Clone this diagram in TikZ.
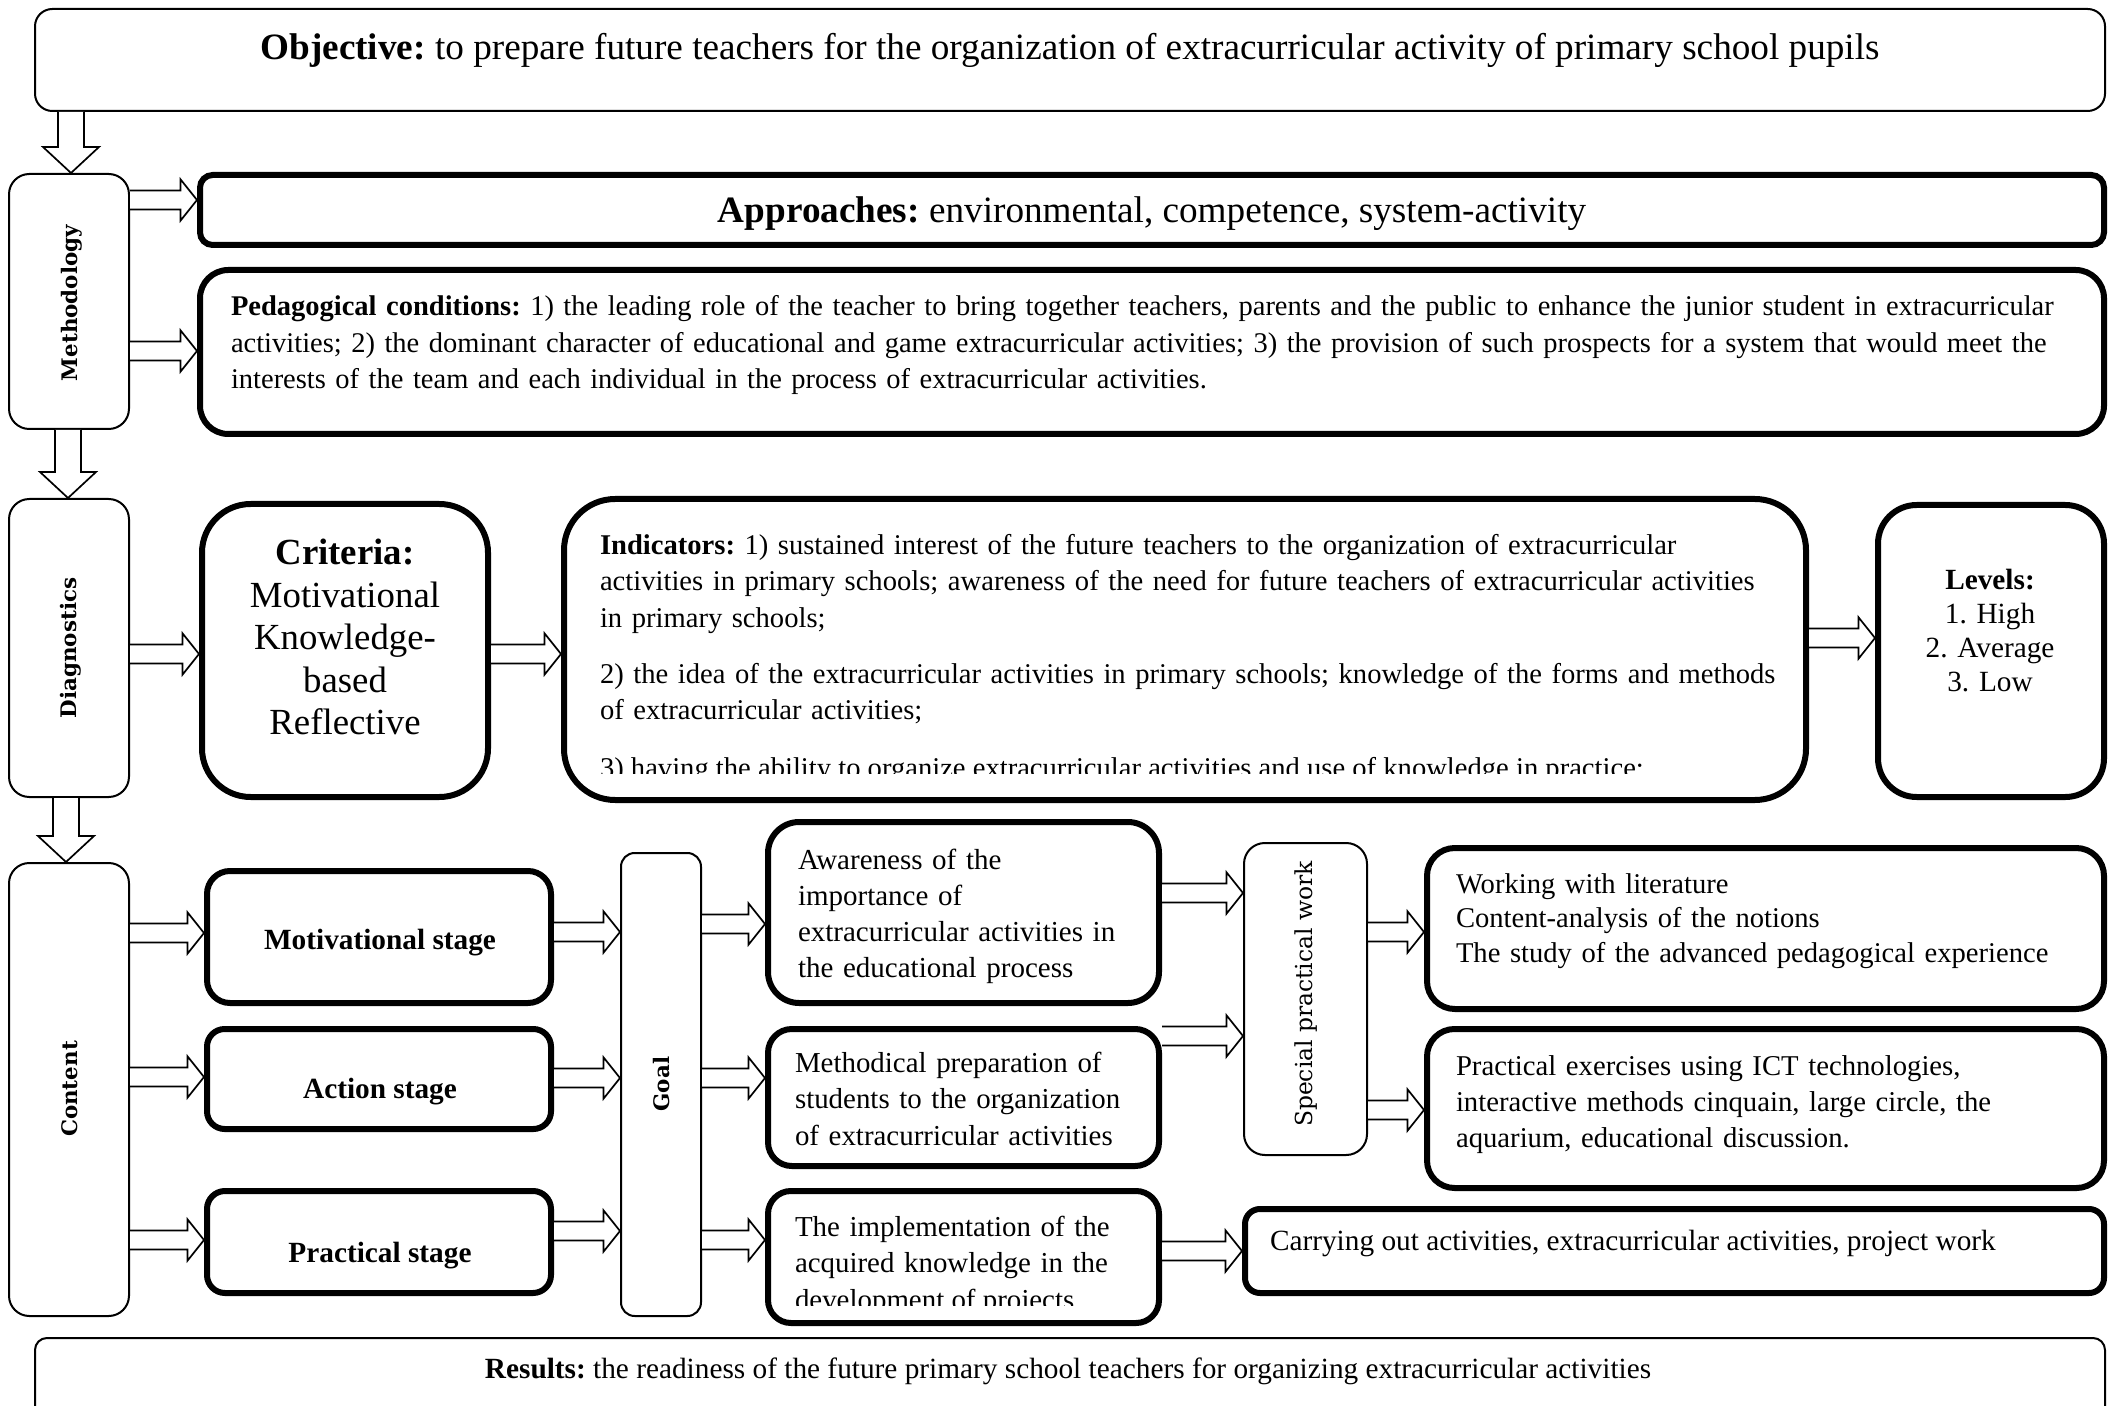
\documentclass[tikz,border=0pt]{standalone}
\usepackage{fontspec}
\setmainfont{Liberation Serif}
\newfontfamily\lblfont{DejaVu Serif}
\usetikzlibrary{calc}
\frenchspacing
\hyphenpenalty=10000
\newcommand\fsz[2]{\fontsize{#1}{#2}\selectfont}
% box: [extra], name, line width (pt), x1, y1, x2, y2 (outer edges, px)
\newcommand\bx[7][]{%
  \pgfmathsetmacro\bxw{(#6-#4)/2-#3}%
  \pgfmathsetmacro\bxh{(#7-#5)/2-#3}%
  \pgfmathsetmacro\bxr{min(#6-#4,#7-#5)*0.0833}%
  \node[draw, line width=#3pt, rounded corners=\bxr pt, minimum width=\bxw pt,
        minimum height=\bxh pt, inner sep=0pt, #1] (#2) at ({(#4+#6)/2},{(#5+#7)/2}) {};%
}
% horizontal block arrow: from node, to node, y (px)
\newcommand\harrow[3]{%
  \draw[arr] let \p1=(#1.east |- 0,#3), \p2=(#2.west |- 0,#3) in
   (\x1,\y1+4.75pt) -- (\x2-8.3pt,\y1+4.75pt) -- (\x2-8.3pt,\y1+10.4pt) -- (\x2,\y1)
   -- (\x2-8.3pt,\y1-10.4pt) -- (\x2-8.3pt,\y1-4.75pt) -- (\x1,\y1-4.75pt);}
% vertical block arrow: from node, to node, x (px)
\newcommand\varrow[3]{%
  \draw[arr] let \p1=(#1.south -| #3,0), \p2=(#2.north -| #3,0) in
   (\x1-6.5pt,\y1) -- (\x1-6.5pt,\y2+13pt) -- (\x1-14pt,\y2+13pt) -- (\x1,\y2)
   -- (\x1+14pt,\y2+13pt) -- (\x1+6.5pt,\y2+13pt) -- (\x1+6.5pt,\y1);}
\begin{document}
\begin{tikzpicture}[x=0.5pt,y=-0.5pt,
  arr/.style={line width=0.85pt, fill=white, line join=miter},
  body/.style={inner sep=0pt, outer sep=0pt, font=\fsz{14.65}{18}},
  lefttext/.style={body, text width=#1, align=left, anchor=base west},
  ctext/.style={body, text width=#1, align=center, anchor=base},
  vlabel/.style={rotate=90, inner sep=0pt, font=\lblfont\bfseries\fsz{10.7}{12}},
  stagelbl/.style={body, anchor=base, font=\bfseries\fsz{14.65}{18}}]
\clip (0,0) rectangle (2114,1406);
\fill[white] (0,0) rectangle (2114,1406);

% ---------- boxes ----------
\bx{obj}{1}{34}{8}{2106}{112}
\bx{meth}{1}{8}{173}{130}{430}
\bx{appr}{3}{197}{172}{2107}{248}
\bx{ped}{3}{197}{267}{2107}{437}
\bx{diag}{1}{8}{498}{130}{798}
\bx{crit}{3}{199}{501}{491}{800}
\bx{ind}{3}{561}{496}{1809}{803}
\bx{lev}{3}{1875}{502}{2107}{800}
\bx{cont}{1}{8}{862}{130}{1317}
\bx{mot}{3}{204}{868}{554}{1006}
\bx{act}{3}{204}{1026}{554}{1132}
\bx{prac}{3}{204}{1188}{554}{1296}
\bx{goal}{1}{620}{852}{702}{1317}
\bx{aware}{3}{765}{819}{1162}{1006}
\bx{methd}{3}{765}{1026}{1162}{1169}
\bx{impl}{3}{765}{1188}{1162}{1326}
\bx{spw}{1}{1243}{842}{1368}{1156}
\bx{work}{3}{1424}{845}{2107}{1012}
\bx{pex}{3}{1424}{1026}{2107}{1191}
\bx{carry}{3}{1242}{1206}{2107}{1296}
\bx[rounded corners=6pt]{res}{1}{34}{1337}{2106}{1480}

% ---------- arrows ----------
\varrow{obj}{meth}{71}
\varrow{meth}{diag}{68}
\varrow{diag}{cont}{66}
\harrow{meth}{appr}{200}
\harrow{meth}{ped}{351}
\harrow{diag}{crit}{654}
\harrow{crit}{ind}{654}
\harrow{ind}{lev}{638}
\harrow{cont}{mot}{933}
\harrow{cont}{act}{1077}
\harrow{cont}{prac}{1240}
\harrow{mot}{goal}{932}
\harrow{act}{goal}{1078}
\harrow{prac}{goal}{1231}
\harrow{goal}{aware}{924}
\harrow{goal}{methd}{1078}
\harrow{goal}{impl}{1240}
\harrow{aware}{spw}{893}
\harrow{methd}{spw}{1036}
\harrow{impl}{carry}{1251}
\harrow{spw}{work}{932}
\harrow{spw}{pex}{1110}

% ---------- texts ----------
\node[body, anchor=base, font=\fsz{18.6}{22}] (objT) at (1070,60)
  {\textbf{Objective:} to prepare future teachers for the organization of extracurricular activity of primary school pupils};
\node[body, anchor=base, font=\fsz{18.6}{22}] (apprT) at (1152,223)
  {\textbf{Approaches:} environmental, competence, system-activity};
\node[lefttext=940pt, font=\fsz{14.25}{18.25}] (pedT) at (231,316)
  {\textbf{Pedagogical conditions:} 1) the leading role of the teacher to bring together teachers, parents and the public to enhance the junior student in extracurricular\\
   activities; 2) the dominant character of educational and game extracurricular activities; 3) the provision of such prospects for a system that would meet the\\
   interests of the team and each individual in the process of extracurricular activities.};

\node[ctext=135pt, font=\fsz{18.4}{21.25}] (critT) at (345,565)
  {\textbf{Criteria:}\\Motivational\\Knowledge-\\based\\Reflective};
\node[lefttext=640pt, font=\fsz{14.3}{18.25}] (indT1) at (600,554)
  {\textbf{Indicators:} 1) sustained interest of the future teachers to the organization of extracurricular\\
   activities in primary schools; awareness of the need for future teachers of extracurricular activities\\
   in primary schools;};
\node[lefttext=640pt, font=\fsz{14.3}{18.25}] (indT2) at (600,683)
  {2) the idea of the extracurricular activities in primary schools; knowledge of the forms and methods\\
   of extracurricular activities;};
\begin{scope}
  \clip (580,740) rectangle (1790,773);
  \node[body, anchor=base west, font=\fsz{14.3}{18}] (indT3) at (600,777)
    {3) having the ability to organize extracurricular activities and use of knowledge in practice;};
\end{scope}
\node[ctext=110pt, font=\fsz{14.65}{17}] (levT) at (1990,589)
  {\textbf{Levels:}\\1. High\\2. Average\\3. Low};

\node[stagelbl] (motT) at (380,949) {Motivational stage};
\node[stagelbl] (actT) at (380,1098) {Action stage};
\node[stagelbl] (pracT) at (380,1262) {Practical stage};

\node[lefttext=185pt, font=\fsz{14.5}{18}] (awareT) at (798,869)
  {Awareness of the\\importance of\\extracurricular activities in\\the educational process};
\node[lefttext=185pt, font=\fsz{14.45}{18.25}] (methdT) at (795,1072)
  {Methodical preparation of\\students to the organization\\of extracurricular activities};
\node[lefttext=185pt, font=\fsz{14.45}{18}] (implT) at (795,1236)
  {The implementation of the\\acquired knowledge in the};
\begin{scope}
  \clip (780,1280) rectangle (1150,1305);
  \node[body, anchor=base west, font=\fsz{14.45}{18}] (implT3) at (795,1309) {development of projects};
\end{scope}

\node[lefttext=320pt, font=\fsz{14.3}{17.25}] (workT) at (1456,893)
  {Working with literature\\Content-analysis of the notions\\The study of the advanced pedagogical experience};
\node[lefttext=320pt, font=\fsz{14.35}{18}] (pexT) at (1456,1075)
  {Practical exercises using ICT technologies,\\interactive methods cinquain, large circle, the\\aquarium, educational discussion.};
\node[body, anchor=base west] (carryT) at (1270,1250)
  {Carrying out activities, extracurricular activities, project work};

\node[body, anchor=base] (resT) at (1068,1378)
  {\textbf{Results:} the readiness of the future primary school teachers for organizing extracurricular activities};

\node[vlabel] (methL) at (72,303) {Methodology};
\node[vlabel] (diagL) at (71,648) {Diagnostics};
\node[vlabel] (contL) at (70,1089) {Content};
\node[vlabel] (goalL) at (662,1084) {Goal};
\node[vlabel, font=\lblfont\fsz{11.7}{13}] (spwL) at (1306,994) {Special practical work};
\end{tikzpicture}
\end{document}
